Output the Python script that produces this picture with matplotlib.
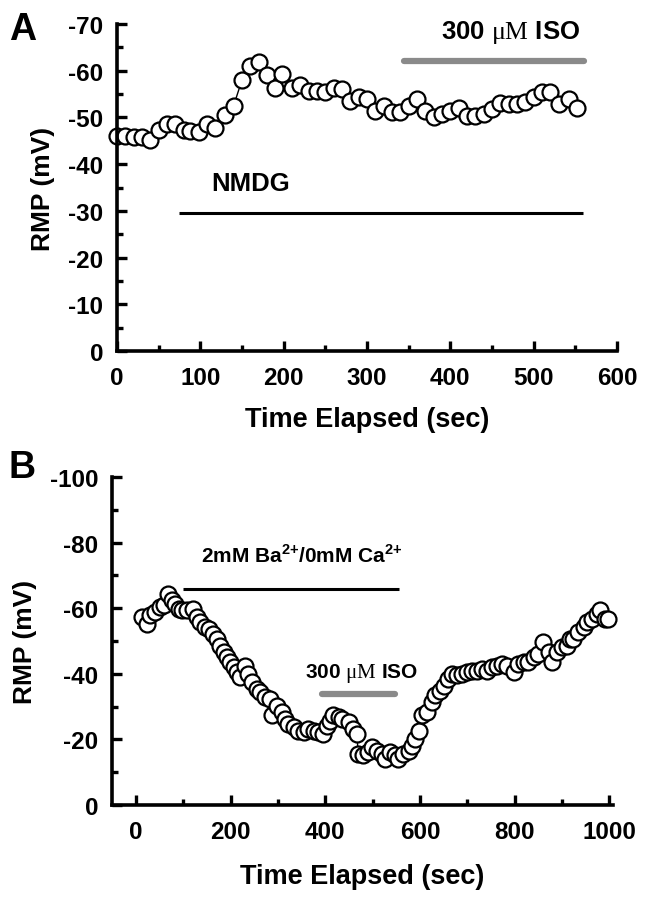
"""Resting membrane potential time courses (NMDG / Ba2+ with ISO)."""
import matplotlib
matplotlib.use("Agg")
import matplotlib.pyplot as plt
from matplotlib.ticker import MultipleLocator

plt.rcParams["font.family"] = ["Liberation Sans", "DejaVu Sans"]
plt.rcParams["font.weight"] = "bold"
plt.rcParams["axes.unicode_minus"] = False
plt.rcParams["mathtext.fontset"] = "custom"
plt.rcParams["mathtext.rm"] = "Liberation Serif:normal"
plt.rcParams["mathtext.bf"] = "Liberation Sans:bold"

# panel A: NMDG, then 300 uM ISO
time_a = [0, 10, 20, 30, 40, 50, 60, 70, 80, 88, 98, 108, 118, 130, 140, 150, 160, 170,
          180, 190, 198, 210, 220, 230, 240, 250, 260, 270, 280, 290, 300, 310, 320, 330,
          340, 350, 360, 370, 380, 390, 400, 410, 420, 430, 440, 450, 460, 470, 480, 490,
          500, 510, 520, 530, 542, 552]
rmp_a = [-46.0, -46.0, -45.9, -45.9, -45.2, -47.4, -48.5, -48.6, -47.4, -47.2, -46.9, -48.5,
         -47.8, -50.5, -52.5, -58.0, -61.1, -61.8, -59.0, -56.4, -59.2, -56.4, -56.9, -55.7,
         -55.7, -55.5, -56.4, -56.0, -53.6, -54.3, -54.0, -51.4, -52.5, -51.1, -51.2, -52.5,
         -54.0, -51.4, -50.0, -50.7, -51.4, -52.1, -50.3, -50.3, -50.7, -51.8, -53.0, -52.8,
         -52.8, -53.2, -54.3, -55.4, -55.4, -52.8, -54.0, -52.1]
nmdg_a = [75, 559]
iso_a = [344, 561]

# panel B: 2mM Ba2+/0mM Ca2+, then 300 uM ISO
time_b = [12, 22, 30, 40, 51, 58, 68, 75, 82, 90, 97, 107, 121, 128, 135, 146, 153, 163,
          170, 178, 185, 192, 199, 206, 213, 220, 230, 237, 244, 255, 262, 273, 283, 287,
          297, 308, 315, 322, 333, 343, 354, 364, 375, 385, 396, 403, 410, 417, 428, 435,
          449, 459, 466, 470, 480, 491, 498, 509, 519, 526, 537, 547, 554, 565, 576, 583,
          590, 597, 604, 614, 625, 632, 643, 650, 660, 667, 678, 688, 699, 710, 720, 731,
          741, 752, 762, 773, 784, 798, 808, 819, 829, 840, 850, 861, 872, 879, 889, 900,
          910, 917, 924, 935, 946, 953, 963, 974, 981, 991, 998]
rmp_b = [-57.3, -55.3, -57.8, -58.8, -60.3, -60.9, -64.4, -62.4, -61.4, -59.8, -59.3, -59.3,
         -59.8, -57.3, -55.8, -54.3, -53.7, -52.2, -50.7, -48.6, -46.6, -45.1, -43.6, -42.0,
         -40.5, -39.0, -42.5, -40.0, -37.5, -35.4, -34.4, -32.9, -32.4, -27.3, -30.3, -28.3,
         -26.3, -24.7, -23.7, -22.7, -22.2, -23.2, -22.7, -22.2, -21.7, -24.2, -25.7, -27.3,
         -26.8, -26.3, -25.3, -23.2, -21.7, -15.6, -15.1, -16.1, -17.6, -16.6, -15.6, -14.0,
         -16.1, -15.1, -14.0, -15.6, -16.6, -18.1, -20.2, -22.7, -27.3, -28.3, -31.4, -33.4,
         -34.9, -36.4, -38.5, -40.0, -39.5, -40.0, -40.5, -41.0, -41.0, -41.5, -41.0, -42.0,
         -42.5, -43.1, -42.5, -40.5, -43.1, -43.6, -43.6, -45.1, -46.1, -49.6, -46.6, -43.6,
         -46.6, -48.1, -48.6, -50.7, -50.7, -52.7, -54.3, -55.8, -56.8, -58.3, -59.3, -56.8,
         -56.8]
barium_b = [100, 555]
iso_b = [392, 548]

GRAY = "#8a8a8a"


def style_axis(ax, xmajor, xminor, ymajor, yminor, xlabelpad):
    for side in ("top", "right"):
        ax.spines[side].set_visible(False)
    for side in ("left", "bottom"):
        ax.spines[side].set_linewidth(2.6)
    ax.xaxis.set_major_locator(MultipleLocator(xmajor))
    ax.xaxis.set_minor_locator(MultipleLocator(xminor))
    ax.yaxis.set_major_locator(MultipleLocator(ymajor))
    ax.yaxis.set_minor_locator(MultipleLocator(yminor))
    ax.tick_params(which="major", direction="in", length=7, width=2.4, labelsize=17.5)
    ax.tick_params(which="minor", direction="in", length=4, width=2.4)
    ax.tick_params(axis="x", which="major", pad=11)
    ax.tick_params(axis="y", which="major", pad=10)
    ax.set_xlabel("Time Elapsed (sec)", fontsize=19.5, fontweight="bold", labelpad=xlabelpad)
    ax.set_ylabel("RMP (mV)", fontsize=19, fontweight="bold", labelpad=9)


def plot_trace(ax, t, v):
    ax.plot(t, v, color="black", linewidth=1.0, marker="o", markersize=11.5,
            markerfacecolor="white", markeredgecolor="black", markeredgewidth=1.6, clip_on=False)


fig = plt.figure(figsize=(6.57, 9.03), dpi=100)
ax_a = fig.add_axes([0.178, 0.6102, 0.761, 0.3621])
ax_b = fig.add_axes([0.1705, 0.1074, 0.7625, 0.3633])

plot_trace(ax_a, time_a, rmp_a)
ax_a.set_xlim(0, 600)
ax_a.set_ylim(0, -70)
style_axis(ax_a, 100, 50, 10, 5, 12)
ax_a.plot(nmdg_a, [-29.5, -29.5], color="black", linewidth=2.2, solid_capstyle="butt")
ax_a.text(160, -36, "NMDG", fontsize=18.5, fontweight="bold", ha="center", va="center")
ax_a.plot(iso_a, [-62, -62], color=GRAY, linewidth=4.5, solid_capstyle="round")
ax_a.text(472, -68.3, r"300 $\mathrm{μM}$ ISO", fontsize=18.5, fontweight="bold",
          ha="center", va="center")

plot_trace(ax_b, time_b, rmp_b)
ax_b.set_xlim(-51, 1008)
ax_b.set_ylim(0, -100)
style_axis(ax_b, 200, 100, 20, 10, 14)
ax_b.plot(barium_b, [-65.7, -65.7], color="black", linewidth=2.2, solid_capstyle="butt")
ax_b.text(350, -76.5, r"2mM Ba$^{\mathbf{2{+}}}$/0mM Ca$^{\mathbf{2{+}}}$", fontsize=15,
          fontweight="bold", ha="center", va="center")
ax_b.plot(iso_b, [-33.7, -33.7], color=GRAY, linewidth=4.5, solid_capstyle="round")
ax_b.text(477, -40.5, r"300 $\mathrm{μM}$ ISO", fontsize=15, fontweight="bold",
          ha="center", va="center")

fig.text(22.5 / 657, 1 - 30 / 903, "A", fontsize=27, fontweight="bold", ha="center", va="center")
fig.text(22 / 657, 1 - 468 / 903, "B", fontsize=27, fontweight="bold", ha="center", va="center")

fig.savefig("out.png", dpi=100)
